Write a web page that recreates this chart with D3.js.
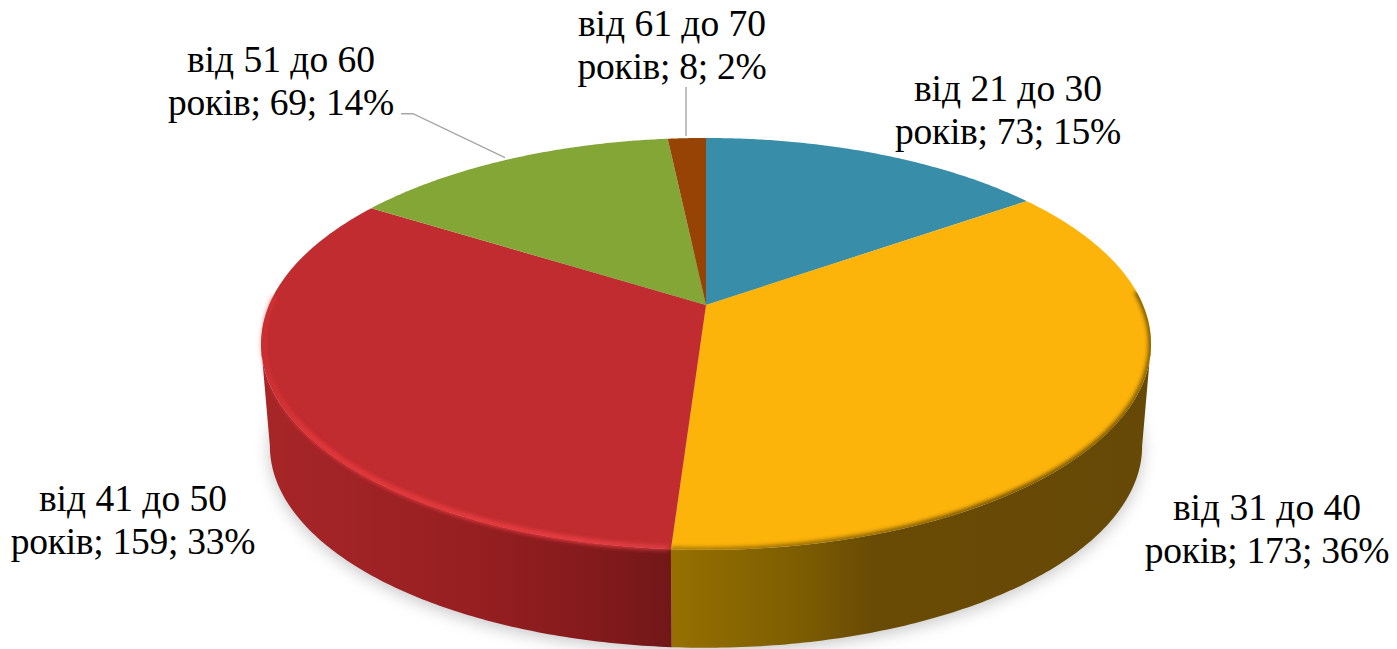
<!DOCTYPE html>
<html lang="uk">
<head>
<meta charset="UTF-8">
<script src="https://d3js.org/d3.v7.min.js"></script>
<title>Вік</title>
<style>
  html, body { margin: 0; padding: 0; background: #fff; overflow: hidden; }
  svg { display: block; }
  text { font-family: "Liberation Serif", serif; font-size: 37.5px; fill: #000; text-anchor: middle; }
</style>
</head>
<body>
<svg id="chart"></svg>
<script>
const categories = ["від 21 до 30", "від 31 до 40", "від 41 до 50", "від 51 до 60", "від 61 до 70"];
const counts = [73, 173, 159, 69, 8];
const percents = [15, 36, 33, 14, 2];
const colors = ["#388ea8", "#fdb40a", "#c02c2f", "#83a636", "#964305"];

// label anchors: centre x, first baseline
const labelPos = [[1008, 100.5], [1267, 519.5], [133, 510.5], [281, 71.5], [672, 35.5]];

const w = 1397, h = 649;
const svg = d3.select("#chart").attr("width", w).attr("height", h);
const defs = svg.append("defs");

// perspective of the disc: u to the right, v towards the viewer
const cx = 706, apexY = 305, k = 0.189, A = 198.6, B = 437;
function topPt(u, v) {
  const p = 1 / (1 - k * v);
  return [cx + B * u * p, apexY + A * v * p];
}
function bottomPt(u, v) {
  const t = topPt(u, v);
  return [cx + (t[0] - cx) * 0.98, 446 + (t[1] - 344) * 0.98];
}
const onRim = (fn, a) => fn(Math.sin(a), -Math.cos(a));
const rim = (fn, a0, a1) => d3.range(0, 121).map(i => onRim(fn, a0 + (a1 - a0) * i / 120));

const line = d3.line();
const slices = d3.pie().sort(null).value(d => d)(counts);

// angles where the rim turns, the wall is only seen between them
const sideRight = Math.acos(-k);
const sideLeft = 2 * Math.PI - sideRight;

function gradient(id, x1, x2, stops) {
  const g = defs.append("linearGradient").attr("id", id)
    .attr("gradientUnits", "userSpaceOnUse")
    .attr("x1", x1).attr("x2", x2).attr("y1", 0).attr("y2", 0);
  stops.forEach(s => g.append("stop").attr("offset", s[0]).attr("stop-color", s[1]).attr("stop-opacity", s[2] === undefined ? 1 : s[2]));
}
function blur(id, sd) {
  defs.append("filter").attr("id", id)
    .attr("filterUnits", "userSpaceOnUse")
    .attr("x", 0).attr("y", 0).attr("width", w).attr("height", h + 40)
    .append("feGaussianBlur").attr("stdDeviation", sd);
}
blur("soft", 8);
blur("rimBlur", 2);
blur("rimDark", 2.2);

gradient("wall1", 670, 1150, [[0, "#967100"], [0.27, "#7d5d02"], [0.42, "#694b05"], [1, "#664906"]]);
gradient("wall2", 262, 670, [[0, "#a72628"], [0.5, "#971f21"], [0.8, "#851a1c"], [1, "#721718"]]);
gradient("rimRed", 262, 670, [[0, "#e8383c", 0.3], [0.12, "#e8383c", 1], [0.8, "#ee4046", 1], [1, "#e8464c", 0.7]]);
gradient("rimYellow", 670, 1150, [[0, "#7a5a04", 0.7], [0.3, "#6a4c05", 0.8], [0.7, "#5e4305", 1], [1, "#5e4305", 0.9]]);

// soft shadow under the disc
svg.append("path")
  .attr("d", line(rim(bottomPt, 0, 2 * Math.PI)) + "Z")
  .attr("transform", "translate(0,4)")
  .attr("fill", "#9a9a9a")
  .attr("opacity", 0.55)
  .attr("filter", "url(#soft)");

// side walls of the two front slices
[1, 2].forEach(i => {
  const a0 = Math.max(slices[i].startAngle, sideRight);
  const a1 = Math.min(slices[i].endAngle, sideLeft);
  const pts = rim(topPt, a0, a1).concat(rim(bottomPt, a0, a1).reverse());
  svg.append("path").attr("d", line(pts) + "Z").attr("fill", `url(#wall${i})`);
});

// top face
svg.append("g").selectAll("path")
  .data(slices)
  .enter().append("path")
  .attr("d", d => line([topPt(0, 0)].concat(rim(topPt, d.startAngle, d.endAngle))) + "Z")
  .attr("fill", (d, i) => colors[i]);

// dark soft edge on the yellow slice, stays inside the slice
defs.append("clipPath").attr("id", "clipYellow").append("path")
  .attr("d", line([topPt(0, 0)].concat(rim(topPt, slices[1].startAngle, slices[1].endAngle))) + "Z");
svg.append("g").attr("clip-path", "url(#clipYellow)").append("path")
  .attr("d", line(rim(topPt, slices[1].startAngle + 0.55, slices[1].endAngle)))
  .attr("fill", "none")
  .attr("stroke", "url(#rimYellow)")
  .attr("stroke-width", 5)
  .attr("filter", "url(#rimDark)");

// light bevel on the red slice
svg.append("path")
  .attr("d", line(rim((u, v) => {
    const t = topPt(u, v);
    return [cx + (t[0] - cx) * 0.995, t[1] - 1];
  }, slices[2].startAngle + 0.005, 4.75)))
  .attr("fill", "none")
  .attr("stroke", "url(#rimRed)")
  .attr("stroke-width", 5)
  .attr("filter", "url(#rimBlur)");

// leader lines
const leaders = [[[401, 113.7], [413, 113.7], [505, 157.7]], [[686, 87], [686, 136]]];
svg.append("g").selectAll("path")
  .data(leaders)
  .enter().append("path")
  .attr("d", d => line(d))
  .attr("fill", "none")
  .attr("stroke", "#a6a6a6")
  .attr("stroke-width", 1.4);

// labels
const labels = svg.append("g").selectAll("text")
  .data(categories)
  .enter().append("text")
  .attr("x", (d, i) => labelPos[i][0])
  .attr("y", (d, i) => labelPos[i][1]);
labels.append("tspan").text(d => d);
labels.append("tspan")
  .attr("x", (d, i) => labelPos[i][0])
  .attr("dy", 43.5)
  .attr("letter-spacing", -0.25)
  .text((d, i) => `років; ${counts[i]}; ${percents[i]}%`);
</script>
</body>
</html>
